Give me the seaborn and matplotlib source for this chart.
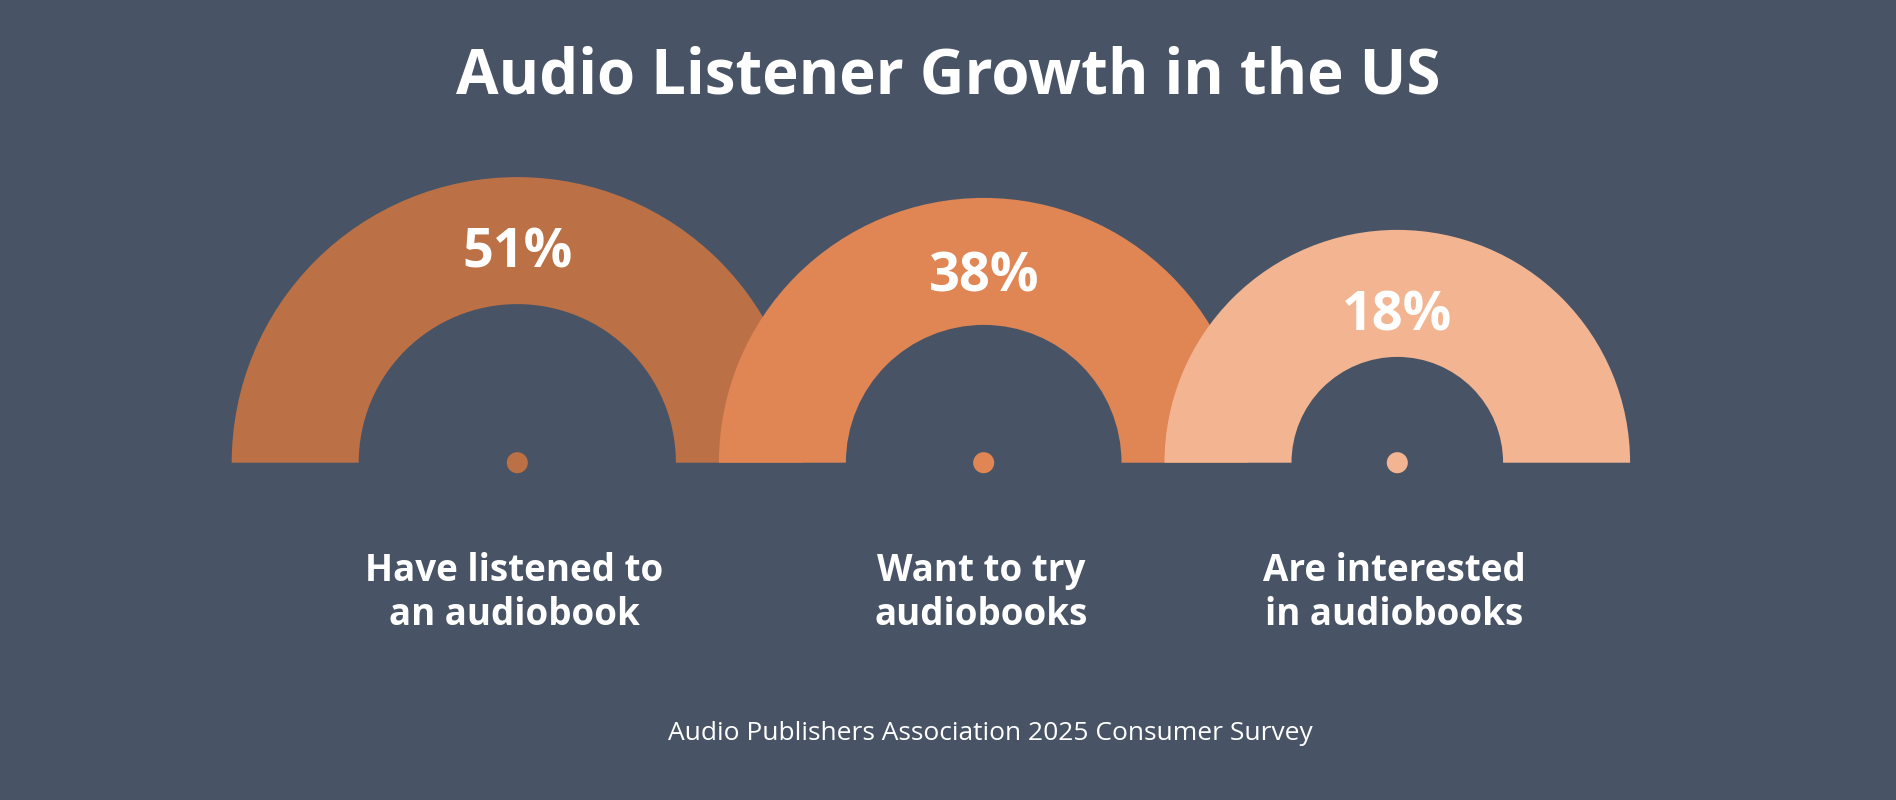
import matplotlib
matplotlib.use("Agg")
import matplotlib.pyplot as plt
from matplotlib.patches import Wedge
import pandas as pd
import seaborn as sns

# data
categories = ["Have listened to\nan audiobook", "Want to try\naudiobooks", "Are interested\nin audiobooks"]
values = [51, 38, 18]
colors = ["#BC7045", "#E08554", "#F3B591"]
title = "Audio Listener Growth in the US"
source = "Audio Publishers Association 2025 Consumer Survey"

bg = "#485465"

sns.set_theme(style="white")
plt.rcParams["font.family"] = ["Open Sans", "DejaVu Sans"]

fig = plt.figure(figsize=(18.96, 8), dpi=100, facecolor=bg)
ax = fig.add_axes([0, 0, 1, 1])
ax.set_facecolor(bg)

# layout (pixels)
base_y = 800 - 462.7
band = 127
overlap = 84
left_edge = 231.7
label_r = [209, 185, 146]

# radius grows with the value
radii = [204 + 1.6 * v for v in values]
centers = []
for i, r in enumerate(radii):
    if i == 0:
        centers.append(left_edge + r)
    else:
        centers.append(centers[-1] + radii[i - 1] + r - overlap)

for i, (cx, r, v, c) in enumerate(zip(centers, radii, values, colors)):
    ax.add_patch(Wedge((cx, base_y), r, 0, 180, width=band, facecolor=c,
                       edgecolor="none", zorder=i + 1))
    ax.text(cx, base_y + label_r[i], f"{v}%", ha="center", va="center",
            fontsize=39, fontweight="bold", color="white", zorder=10)
    ax.text(cx - 3, 800 - 593, categories[i], ha="center", va="center",
            fontsize=26.5, fontweight="bold", color="white", linespacing=1.2)

df = pd.DataFrame({"x": centers, "y": [base_y] * 3, "cat": categories})
sns.scatterplot(data=df, x="x", y="y", hue="cat", palette=colors, s=230,
                edgecolor="none", legend=False, ax=ax, zorder=20)
ax.set_xlim(0, 1896)
ax.set_ylim(0, 800)
ax.axis("off")

ax.text(948, 800 - 94, title, ha="center", va="baseline", fontsize=44.5,
        fontweight="bold", color="white")
ax.text(990, 800 - 734, source, ha="center", va="center", fontsize=19,
        color="white")

fig.savefig("out.png", dpi=100, facecolor=bg)
